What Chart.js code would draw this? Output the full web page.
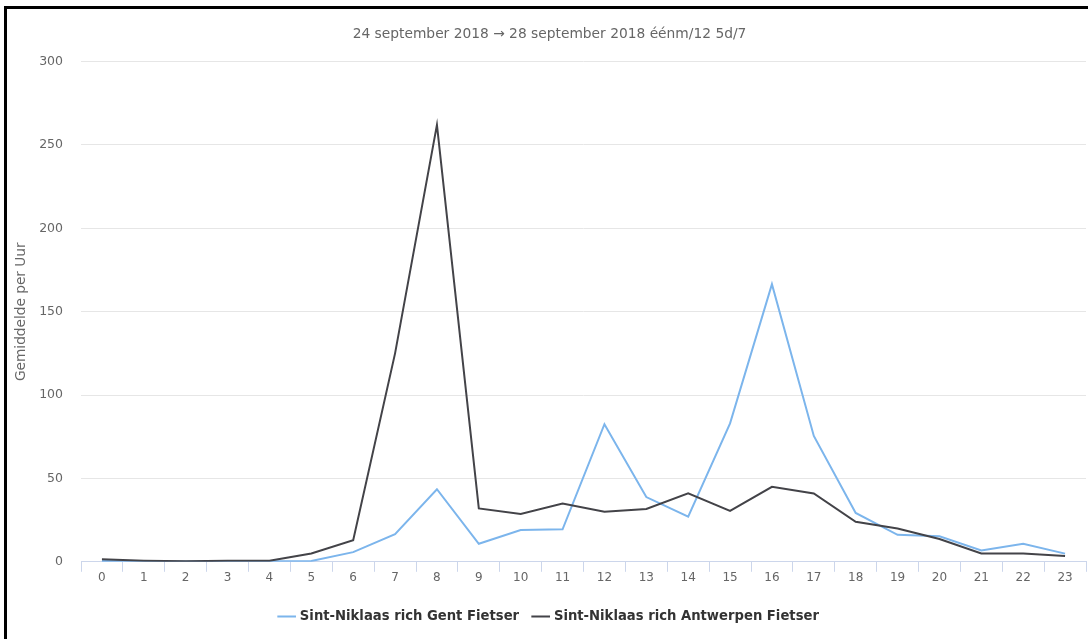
<!DOCTYPE html>
<html>
<head>
<meta charset="utf-8">
<script src="https://cdn.jsdelivr.net/npm/chart.js@4"></script>
<style>
  html, body { margin: 0; padding: 0; background: #fff; }
  #wrap { position: relative; width: 1088px; height: 639px; overflow: hidden; }
  #frame { position: absolute; left: 4px; top: 6px; right: -10px; bottom: -10px; border-top: 3px solid #000; border-left: 3px solid #000; pointer-events: none; }
  canvas { position: absolute; left: 0; top: 0; }
</style>
</head>
<body>
<div id="wrap">
  <canvas id="c" width="1088" height="639"></canvas>
  <div id="frame"></div>
</div>
<script>
const hours = ['0','1','2','3','4','5','6','7','8','9','10','11','12','13','14','15','16','17','18','19','20','21','22','23'];
const gentFietser = [0.5, 0.3, 0.2, 0.3, 0.3, 0.5, 5.8, 16.6, 43.5, 10.8, 19, 19.5, 82.5, 38.8, 27, 83, 166.5, 75.5, 29.3, 16.2, 15.3, 6.8, 10.8, 4.9];
const antwerpenFietser = [1.5, 0.7, 0.3, 0.6, 0.6, 5, 13, 125, 262, 32, 28.7, 35, 30, 31.7, 41, 30.5, 45, 41, 24, 20, 13.7, 5, 5, 3.5];
const seriesNames = ['Sint-Niklaas rich Gent Fietser', 'Sint-Niklaas rich Antwerpen Fietser'];
const titleText = '24 september 2018 \u2192 28 september 2018 \u00e9\u00e9nm/12 5d/7';
const yTitle = 'Gemiddelde per Uur';

const FONT = '"DejaVu Sans", "Lucida Grande", sans-serif';

new Chart(document.getElementById('c'), {
  type: 'line',
  data: {
    labels: hours,
    datasets: [
      { label: seriesNames[0], data: gentFietser, borderColor: '#7cb5ec', backgroundColor: '#7cb5ec', borderWidth: 2, pointRadius: 0, tension: 0, order: 1 },
      { label: seriesNames[1], data: antwerpenFietser, borderColor: '#434348', backgroundColor: '#434348', borderWidth: 2, pointRadius: 0, tension: 0, order: 0 }
    ]
  },
  options: {
    responsive: false,
    animation: false,
    layout: { padding: { left: 13, right: 2, top: 26, bottom: 6 } },
    plugins: {
      title: {
        display: true, text: titleText, color: '#666',
        font: { family: FONT, size: 13.8, weight: 'normal' },
        padding: { top: 0, bottom: 19 }
      },
      legend: {
        position: 'bottom',
        labels: {
          usePointStyle: true, pointStyle: 'line', boxWidth: 16,
          color: '#333', font: { family: FONT, size: 13.2, weight: 'bold' },
          padding: 15,
          sort: (a, b) => a.datasetIndex - b.datasetIndex
        }
      },
      tooltip: { enabled: false }
    },
    scales: {
      x: {
        offset: true,
        grid: { offset: true, drawOnChartArea: false, drawTicks: true, tickLength: 10, color: '#ccd6eb' },
        border: { color: '#ccd6eb' },
        ticks: { color: '#666', font: { family: FONT, size: 12 }, padding: -1, maxRotation: 0, autoSkip: false },
        afterFit: (s) => { s.height = 33; }
      },
      y: {
        min: 0, max: 300,
        ticks: { stepSize: 50, color: '#666', font: { family: FONT, size: 12.5 }, padding: 18 },
        grid: { color: '#e6e6e6', drawTicks: false },
        border: { display: false },
        title: { display: true, text: yTitle, color: '#666', font: { family: FONT, size: 13.7 }, padding: 0 },
        afterFit: (s) => { s.width = 68; }
      }
    }
  }
});
</script>
</body>
</html>
